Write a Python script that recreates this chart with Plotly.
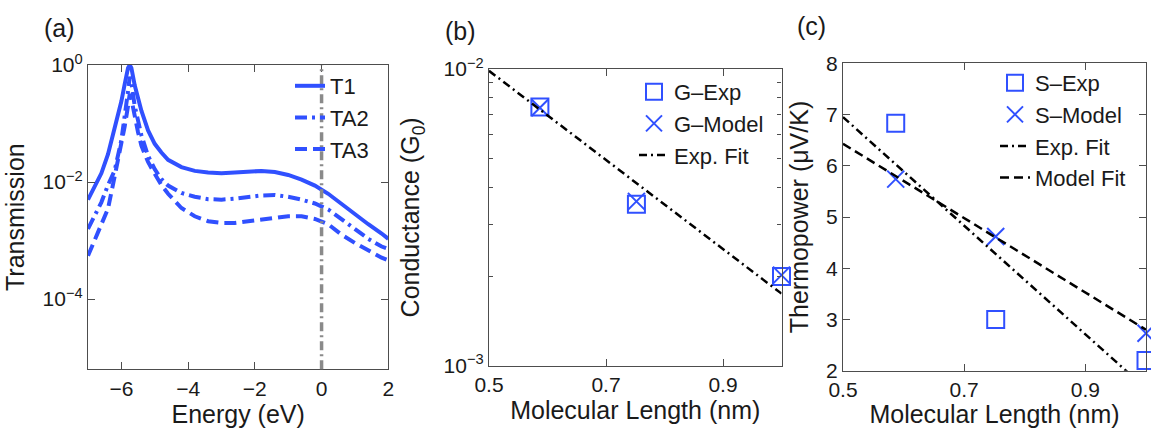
import plotly.graph_objects as go

W, H = 1151, 428

# ---------------- Panel (a): transmission vs energy ----------------
energy = [-7.0, -6.8, -6.6, -6.4, -6.2, -6.0, -5.9, -5.8, -5.75, -5.7, -5.6, -5.5,
          -5.4, -5.2, -5.0, -4.8, -4.6, -4.2, -3.8, -3.4, -3.0, -2.6, -2.2, -1.8,
          -1.4, -1.0, -0.6, -0.2, 0.2, 0.6, 1.0, 1.4, 1.8, 2.0]
t1 = [5.0e-3, 8.3e-3, 1.41e-2, 3.0e-2, 7.9e-2, 0.24, 0.47, 0.89, 1.0, 0.89, 0.45, 0.26,
      0.166, 0.076, 0.045, 0.032, 0.024, 0.018, 0.0155, 0.0145, 0.0141, 0.0145, 0.0151, 0.0155,
      0.0148, 0.0132, 0.011, 0.0087, 0.0063, 0.0042, 0.0028, 0.0019, 0.00132, 0.00107]
ta2 = [1.58e-3, 2.63e-3, 4.5e-3, 8.9e-3, 1.58e-2, 5.2e-2, 0.126, 0.355, 0.63, 0.50, 0.20, 0.112,
       0.063, 0.028, 0.0166, 0.0112, 0.0087, 0.0065, 0.0056, 0.0051, 0.0050, 0.0052, 0.0056, 0.0059,
       0.0060, 0.0056, 0.0050, 0.0043, 0.0034, 0.0023, 0.00158, 0.00107, 0.00079, 0.00072]
ta3 = [5.5e-4, 1.0e-3, 1.78e-3, 3.5e-3, 1.26e-2, 4.2e-2, 8.9e-2, 0.20, 0.32, 0.26, 0.126, 0.071,
       0.042, 0.022, 0.0138, 0.0089, 0.0063, 0.0036, 0.0026, 0.00214, 0.0020, 0.0020, 0.00214, 0.0023,
       0.00245, 0.0026, 0.0026, 0.00234, 0.0019, 0.00126, 0.00091, 0.00068, 0.00051, 0.00046]
fermi_level = 0.0
a_xticks = [-6, -4, -2, 0, 2]
a_yticks = [1, 1e-2, 1e-4]
a_yticktext = ["10<sup>0</sup>", "10<sup>\u22122</sup>", "10<sup>\u22124</sup>"]

# ---------------- Panel (b): conductance vs length ----------------
length = [0.587, 0.752, 1.0]
g_exp = [7.45e-3, 3.50e-3, 2.0e-3]
g_model = [7.40e-3, 3.58e-3, 2.02e-3]
g_fit_x = [0.5, 1.0]
g_fit_y = [9.86e-3, 1.75e-3]
b_xticks = [0.5, 0.7, 0.9]
b_yticks = [1e-3, 1e-2]
b_yticktext = ["10<sup>\u22123</sup>", "10<sup>\u22122</sup>"]
b_yminor = [2e-3, 3e-3, 4e-3, 5e-3, 6e-3, 7e-3, 8e-3, 9e-3]

# ---------------- Panel (c): thermopower vs length ----------------
s_exp = [6.83, 3.0, 2.2]
s_model = [5.74, 4.62, 2.73]
s_expfit_x = [0.5, 1.0]
s_expfit_y = [6.95, 1.65]
s_modelfit_x = [0.5, 1.0]
s_modelfit_y = [6.43, 2.80]
c_xticks = [0.5, 0.7, 0.9]
c_yticks = [2, 3, 4, 5, 6, 7, 8]

BLUE = "#3050ff"
FONT = "Liberation Sans, Arial, Helvetica, sans-serif"
AXC = "#4d4d4d"

fig = go.Figure()

# Panel (a) traces
fig.add_trace(go.Scatter(x=energy, y=t1, mode="lines", name="T1",
                         line=dict(color=BLUE, width=4), xaxis="x", yaxis="y", legend="legend"))
fig.add_trace(go.Scatter(x=energy, y=ta2, mode="lines", name="TA2",
                         line=dict(color=BLUE, width=4, dash="12px,5px,3px,5px"),
                         xaxis="x", yaxis="y", legend="legend"))
fig.add_trace(go.Scatter(x=energy, y=ta3, mode="lines", name="TA3",
                         line=dict(color=BLUE, width=4, dash="12px,6px"),
                         xaxis="x", yaxis="y", legend="legend"))

# Panel (b) traces
fig.add_trace(go.Scatter(x=length, y=g_exp, mode="markers", name="G\u2013Exp", cliponaxis=False,
                         marker=dict(symbol="square-open", size=17, color=BLUE, line=dict(width=2)),
                         xaxis="x2", yaxis="y2", legend="legend2"))
fig.add_trace(go.Scatter(x=length, y=g_model, mode="markers", name="G\u2013Model", cliponaxis=False,
                         marker=dict(symbol="x-thin-open", size=17, color=BLUE, line=dict(width=2, color=BLUE)),
                         xaxis="x2", yaxis="y2", legend="legend2"))
fig.add_trace(go.Scatter(x=g_fit_x, y=g_fit_y, mode="lines", name="Exp. Fit",
                         line=dict(color="black", width=2.5, dash="8px,4px,2px,4px"),
                         xaxis="x2", yaxis="y2", legend="legend2"))

# Panel (c) traces
fig.add_trace(go.Scatter(x=length, y=s_exp, mode="markers", name="S\u2013Exp", cliponaxis=False,
                         marker=dict(symbol="square-open", size=17, color=BLUE, line=dict(width=2)),
                         xaxis="x3", yaxis="y3", legend="legend3"))
fig.add_trace(go.Scatter(x=length, y=s_model, mode="markers", name="S\u2013Model", cliponaxis=False,
                         marker=dict(symbol="x-thin-open", size=17, color=BLUE, line=dict(width=2, color=BLUE)),
                         xaxis="x3", yaxis="y3", legend="legend3"))
fig.add_trace(go.Scatter(x=s_expfit_x, y=s_expfit_y, mode="lines", name="Exp. Fit",
                         line=dict(color="black", width=2.5, dash="8px,4px,2px,4px"),
                         xaxis="x3", yaxis="y3", legend="legend3"))
fig.add_trace(go.Scatter(x=s_modelfit_x, y=s_modelfit_y, mode="lines", name="Model Fit",
                         line=dict(color="black", width=2.5, dash="9px,5px"),
                         xaxis="x3", yaxis="y3", legend="legend3"))

# Fermi level marker line in (a)
fig.add_shape(type="line", xref="x", yref="y domain", x0=fermi_level, x1=fermi_level, y0=0, y1=1,
              line=dict(color="#8a8a8a", width=3.5, dash="9px,4px,2px,4px"), layer="above")


def px_x(p):
    return p / W


def px_y(p):
    return 1 - p / H


tickfont = dict(family=FONT, size=21, color="#1a1a1a")
titlefont = dict(family=FONT, size=25, color="#1a1a1a")
common = dict(showline=True, linecolor=AXC, linewidth=1.2, mirror="ticks", ticks="inside",
              ticklen=7, tickwidth=1.2, tickcolor=AXC, showgrid=False, zeroline=False,
              tickfont=tickfont, automargin=False)
legfont = dict(family=FONT, size=22, color="#1a1a1a")

fig.update_layout(
    width=W, height=H, autosize=False,
    margin=dict(l=0, r=0, t=0, b=0),
    paper_bgcolor="white", plot_bgcolor="white",
    font=dict(family=FONT, color="#1a1a1a"),
    xaxis=dict(domain=[px_x(88), px_x(388.3)], range=[-7, 2], tickvals=a_xticks, anchor="y",
               title=dict(text="Energy (eV)", font=titlefont, standoff=4), **common),
    yaxis=dict(domain=[px_y(369.3), px_y(65)], type="log", range=[-5.2, 0], tickvals=a_yticks,
               ticktext=a_yticktext, anchor="x",
               title=dict(text="Transmission", font=titlefont, standoff=10), **common),
    xaxis2=dict(domain=[px_x(489), px_x(781.5)], range=[0.5, 1.0], tickvals=b_xticks,
                ticktext=["0.5", "0.7", "0.9"], anchor="y2",
                title=dict(text="Molecular Length (nm)", font=titlefont, standoff=4), **common),
    yaxis2=dict(domain=[px_y(365.7), px_y(69)], type="log", range=[-3, -2], tickvals=b_yticks,
                ticktext=b_yticktext, anchor="x2",
                minor=dict(tickvals=b_yminor, ticks="inside", ticklen=4, tickcolor=AXC, tickwidth=1),
                title=dict(text="Conductance (G<sub>0</sub>)", font=titlefont, standoff=16), **common),
    xaxis3=dict(domain=[px_x(843), px_x(1146)], range=[0.5, 1.0], tickvals=c_xticks,
                ticktext=["0.5", "0.7", "0.9"], anchor="y3",
                title=dict(text="Molecular Length (nm)", font=titlefont, standoff=4), **common),
    yaxis3=dict(domain=[px_y(370.7), px_y(63.3)], range=[2, 8], tickvals=c_yticks, anchor="x3",
                title=dict(text="Thermopower (\u03bcV/K)", font=titlefont, standoff=10), **common),
    legend=dict(x=px_x(290), y=px_y(65), xanchor="left", yanchor="top", bgcolor="rgba(0,0,0,0)",
                font=legfont, borderwidth=0, tracegroupgap=0),
    legend2=dict(x=px_x(634), y=px_y(71), xanchor="left", yanchor="top", bgcolor="rgba(0,0,0,0)",
                 font=legfont, borderwidth=0, tracegroupgap=0),
    legend3=dict(x=px_x(995), y=px_y(62), xanchor="left", yanchor="top", bgcolor="rgba(0,0,0,0)",
                 font=legfont, borderwidth=0, tracegroupgap=0),
    showlegend=True,
)

for label, xp, yp in [("(a)", 60, 28), ("(b)", 460, 31), ("(c)", 811, 26)]:
    fig.add_annotation(text=label, x=px_x(xp), y=px_y(yp), xref="paper", yref="paper",
                       showarrow=False, xanchor="center", yanchor="middle",
                       font=dict(family=FONT, size=25, color="#1a1a1a"))

fig.write_html("out.html")
